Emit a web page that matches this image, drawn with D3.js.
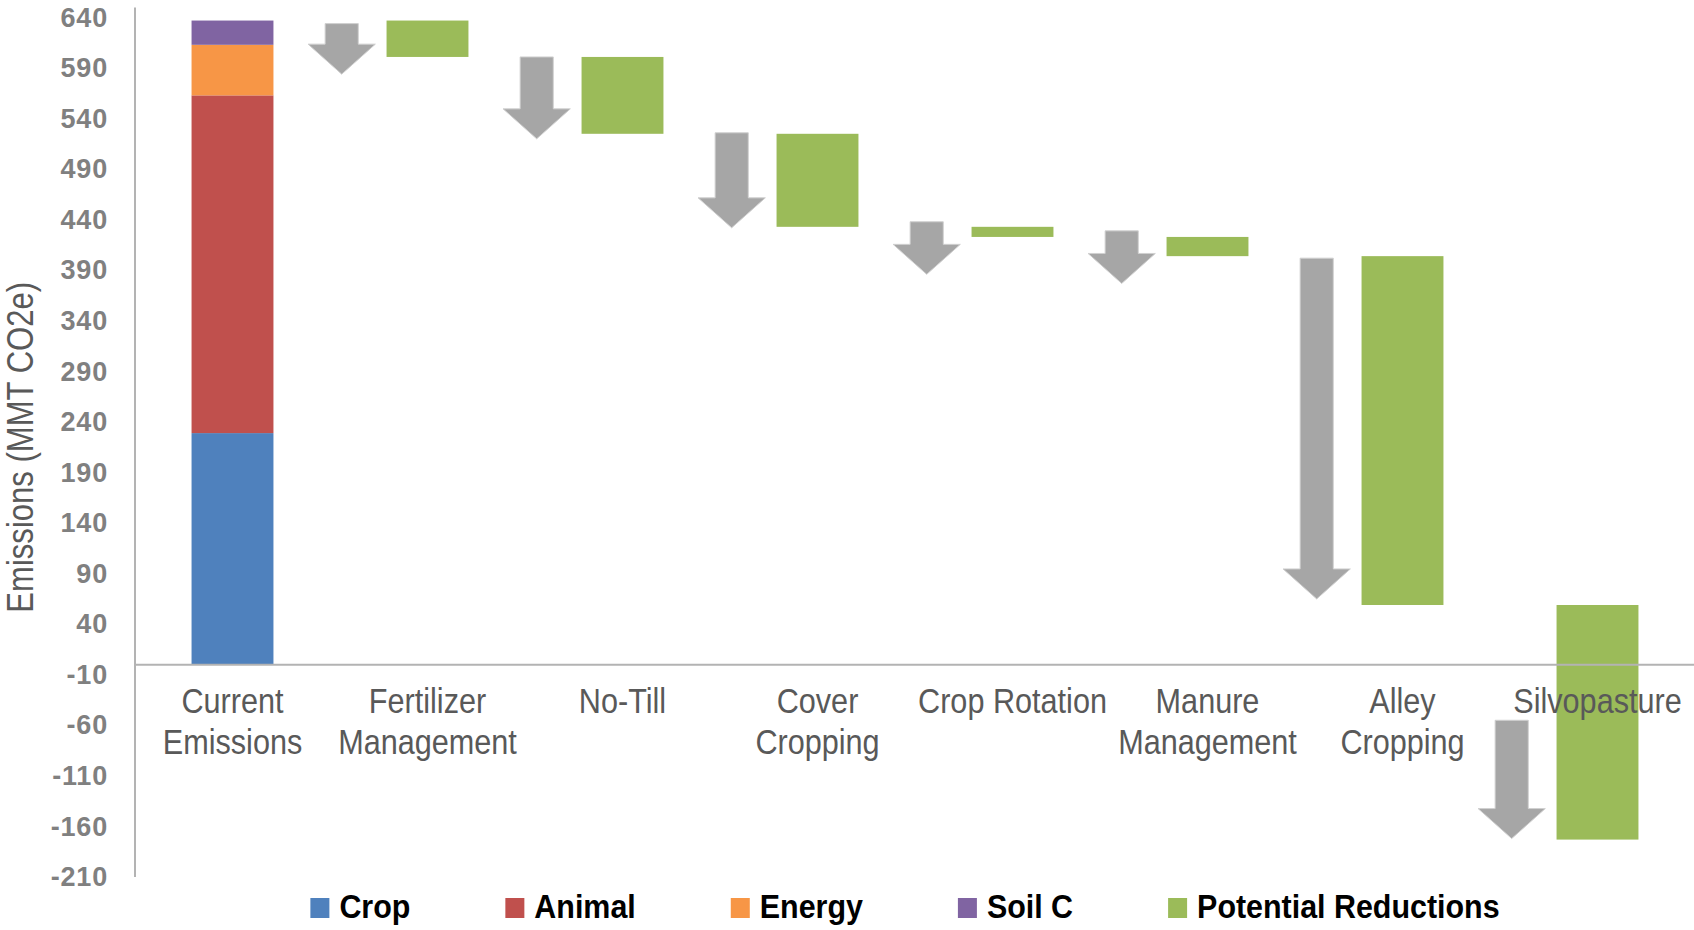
<!DOCTYPE html>
<html>
<head>
<meta charset="utf-8">
<script src="https://cdn.jsdelivr.net/npm/d3@7"></script>
<style>
  html, body { margin: 0; padding: 0; background: #ffffff; }
  svg { display: block; }
  text { font-family: "Liberation Sans", Arial, sans-serif; }
</style>
</head>
<body>
<svg id="chart" width="1694" height="930"></svg>
<script>
// Categories along the x axis (each line of a label is listed separately)
const categories = ["Current Emissions", "Fertilizer Management", "No-Till", "Cover Cropping",
                    "Crop Rotation", "Manure Management", "Alley Cropping", "Silvopasture"];
const categoryLines = [["Current", "Emissions"], ["Fertilizer", "Management"], ["No-Till"],
                       ["Cover", "Cropping"], ["Crop Rotation"], ["Manure", "Management"],
                       ["Alley", "Cropping"], ["Silvopasture"]];

// Current emissions by source (MMT CO2e)
const sources = ["Crop", "Animal", "Energy", "Soil C"];
const sourceValues = [229, 334, 50, 24];

// Potential reduction of each practice (MMT CO2e), applied in order
const reductionPractices = categories.slice(1);
const reductionValues = [36, 76, 92, 10, 19, 345, 232];

// Down arrows beside each reduction: start and end level (MMT CO2e)
const arrowStart = [634, 601, 526, 438, 429, 402, -55];
const arrowEnd = [584, 520, 432, 386, 377, 65, -172];

// Y axis tick values
const yTicks = d3.range(-210, 641, 50);

const legendNames = ["Crop", "Animal", "Energy", "Soil C", "Potential Reductions"];
const colors = {
  "Crop": "#4f81bd", "Animal": "#c0504d", "Energy": "#f79646",
  "Soil C": "#8064a2", "Potential Reductions": "#9bbb59"
};
const arrowColor = "#a6a6a6";
const axisColor = "#b3b3b3";
const narrow = 0.875;   // horizontal squeeze for the condensed label face

const svg = d3.select("#chart");

const x = d3.scaleBand().domain(categories).range([135, 1695]).padding(0);
const y = d3.scaleLinear().domain([-210, 650]).range([877, 7.4]);
const step = x.step();
const barW = step * 0.42;
const cx = c => x(c) + step / 2;

const plot = svg.append("g");

// Stacked current-emissions bar
let acc = 0;
const stack = sourceValues.map((v, i) => {
  const s = { name: sources[i], y0: acc, y1: acc + v };
  acc += v;
  return s;
});
const total = acc;

plot.selectAll("rect.src").data(stack).join("rect")
  .attr("class", "src")
  .attr("x", cx(categories[0]) - barW / 2)
  .attr("width", barW)
  .attr("y", d => y(d.y1))
  .attr("height", d => y(d.y0) - y(d.y1))
  .attr("fill", d => colors[d.name]);

// Floating reduction bars
let level = total;
const steps = reductionValues.map((v, i) => {
  const s = { name: reductionPractices[i], top: level, bottom: level - v };
  level -= v;
  return s;
});

plot.selectAll("rect.red").data(steps).join("rect")
  .attr("class", "red")
  .attr("x", d => cx(d.name) - barW / 2)
  .attr("width", barW)
  .attr("y", d => y(d.top))
  .attr("height", d => y(d.bottom) - y(d.top))
  .attr("fill", colors["Potential Reductions"]);

// Block arrows
const shaftW = step * 0.17;
const headW = step * 0.345;
const headL = 30;
const arrowPath = (xc, yTop, yTip) => {
  const hs = yTip - headL;
  return `M${xc - shaftW / 2},${yTop} L${xc + shaftW / 2},${yTop} L${xc + shaftW / 2},${hs}` +
         ` L${xc + headW / 2},${hs} L${xc},${yTip} L${xc - headW / 2},${hs}` +
         ` L${xc - shaftW / 2},${hs} Z`;
};
plot.selectAll("path.arrow").data(reductionPractices).join("path")
  .attr("class", "arrow")
  .attr("d", (c, i) => arrowPath(cx(c) - step * 0.44, y(arrowStart[i]), y(arrowEnd[i])))
  .attr("fill", arrowColor)
  .attr("stroke", "#d0d0d0")
  .attr("stroke-width", 1);

// Axes
const yAxis = d3.axisLeft(y).tickValues(yTicks).tickSize(0).tickPadding(27)
  .tickFormat(d => String(d));
const gy = svg.append("g").attr("transform", "translate(135,0)").call(yAxis);
gy.select(".domain").remove();
gy.selectAll("text")
  .attr("font-weight", "bold")
  .attr("font-size", 27)
  .attr("letter-spacing", 0.8)
  .attr("fill", "#808080");

svg.append("line")
  .attr("x1", 135).attr("x2", 135)
  .attr("y1", y(650)).attr("y2", y(-210))
  .attr("stroke", axisColor).attr("stroke-width", 2);
svg.append("line")
  .attr("x1", 135).attr("x2", 1694)
  .attr("y1", y(0)).attr("y2", y(0))
  .attr("stroke", axisColor).attr("stroke-width", 2);

// Category labels
const catG = svg.append("g");
categories.forEach((c, i) => {
  const t = catG.append("text")
    .attr("transform", `translate(${cx(c)},${y(0) + 48}) scale(${narrow},1)`)
    .attr("text-anchor", "middle")
    .attr("font-size", 35)
    .attr("fill", "#595959");
  categoryLines[i].forEach((line, j) => {
    t.append("tspan").attr("x", 0).attr("dy", j === 0 ? 0 : 41).text(line);
  });
});

// Y axis title
svg.append("text")
  .attr("transform", `translate(33,${(y(640) + y(-210)) / 2}) rotate(-90) scale(0.84,1)`)
  .attr("text-anchor", "middle")
  .attr("font-size", 37)
  .attr("fill", "#595959")
  .text("Emissions (MMT CO2e)");

// Legend
const legendSqueeze = 0.895;
const legend = svg.append("g");
const items = legend.selectAll("g").data(legendNames).join("g");
items.append("rect")
  .attr("width", 19).attr("height", 20)
  .attr("y", -20)
  .attr("fill", d => colors[d]);
items.append("text")
  .attr("transform", `translate(29,0) scale(${legendSqueeze},1)`)
  .attr("font-size", 34)
  .attr("font-weight", "bold")
  .attr("fill", "#000000")
  .text(d => d);
let lx = 0;
const gap = 95;
items.each(function () {
  const g = d3.select(this);
  g.attr("transform", `translate(${lx},0)`);
  lx += 29 + g.select("text").node().getComputedTextLength() * legendSqueeze + gap;
});
const legendW = lx - gap;
legend.attr("transform", `translate(${905 - legendW / 2},918)`);
</script>
</body>
</html>
